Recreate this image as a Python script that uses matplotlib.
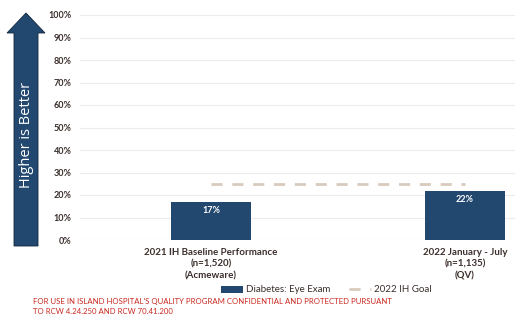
import matplotlib
matplotlib.use("Agg")
import matplotlib.pyplot as plt
from matplotlib.patches import FancyArrow
import numpy as np

categories = ["2021 IH Baseline Performance\n(n=1,520)\n(Acmeware)",
              "2022 January - July\n(n=1,135)\n(QV)"]
values = [17, 22]
goal = [25, 25]
yticks = [0, 10, 20, 30, 40, 50, 60, 70, 80, 90, 100]

plt.rcParams['font.family'] = ['Lato', 'DejaVu Sans']
txtc = '#3b2f2c'
barc = '#23486f'

fig = plt.figure(figsize=(5.18, 3.24), dpi=100)
ax = fig.add_axes([80/518, 1-240/324, 435/518, 225/324])
x = np.arange(len(categories))
bars = ax.bar(x, values, width=0.315, color=barc, label='Diabetes: Eye Exam', zorder=3)
line, = ax.plot(x, goal, color='#d8cbbd', lw=2, dashes=(4, 3.5), label='2022 IH Goal', zorder=2)
for xi, v in zip(x, values):
    ax.text(xi, v - 1.8, f"{v}%", ha='center', va='top', color='white',
            fontsize=6.5, fontweight='bold', zorder=4)
ax.set_ylim(0, 100)
ax.set_xlim(-0.516, 1.197)
ax.set_yticks(yticks)
ax.set_yticklabels([f"{t}%" for t in yticks], fontsize=6.5, fontweight='bold', color=txtc)
ax.set_xticks(x)
ax.set_xticklabels(categories, fontsize=7, fontweight='bold', color=txtc, linespacing=1.35)
ax.tick_params(length=0, pad=6)
ax.tick_params(axis='y', pad=6)
for s in ax.spines.values():
    s.set_visible(False)
ax.grid(axis='y', color='#ececec', lw=0.8, zorder=0)

leg = fig.legend([bars, line], ['Diabetes: Eye Exam', '2022 IH Goal'],
                 loc='center', bbox_to_anchor=(0.63, 1-290/324), ncol=2, frameon=False,
                 fontsize=7, handlelength=2.2, columnspacing=2.0, handletextpad=0.3)
for t in leg.get_texts():
    t.set_color(txtc)

# arrow
arrow = FancyArrow(26/518, 1-246/324, 0, (246-13)/324, width=24/518,
                   head_width=38/518, head_length=20/324, length_includes_head=True,
                   transform=fig.transFigure, color=barc, ec='#10263d', lw=0.6)
fig.patches.append(arrow)
fig.text(26/518, 1-135/324, "Higher is Better", rotation=90, ha='center', va='center',
         color='white', fontsize=10.5, family=['Open Sans', 'DejaVu Sans'])

fig.text(33/518, 1-306.5/324, "FOR USE IN ISLAND HOSPITAL'S QUALITY PROGRAM CONFIDENTIAL AND PROTECTED PURSUANT\nTO RCW 4.24.250 AND RCW 70.41.200",
         color='#c8281f', fontsize=5.6, ha='left', va='center', linespacing=1.45)

fig.savefig("out.png", dpi=100)
